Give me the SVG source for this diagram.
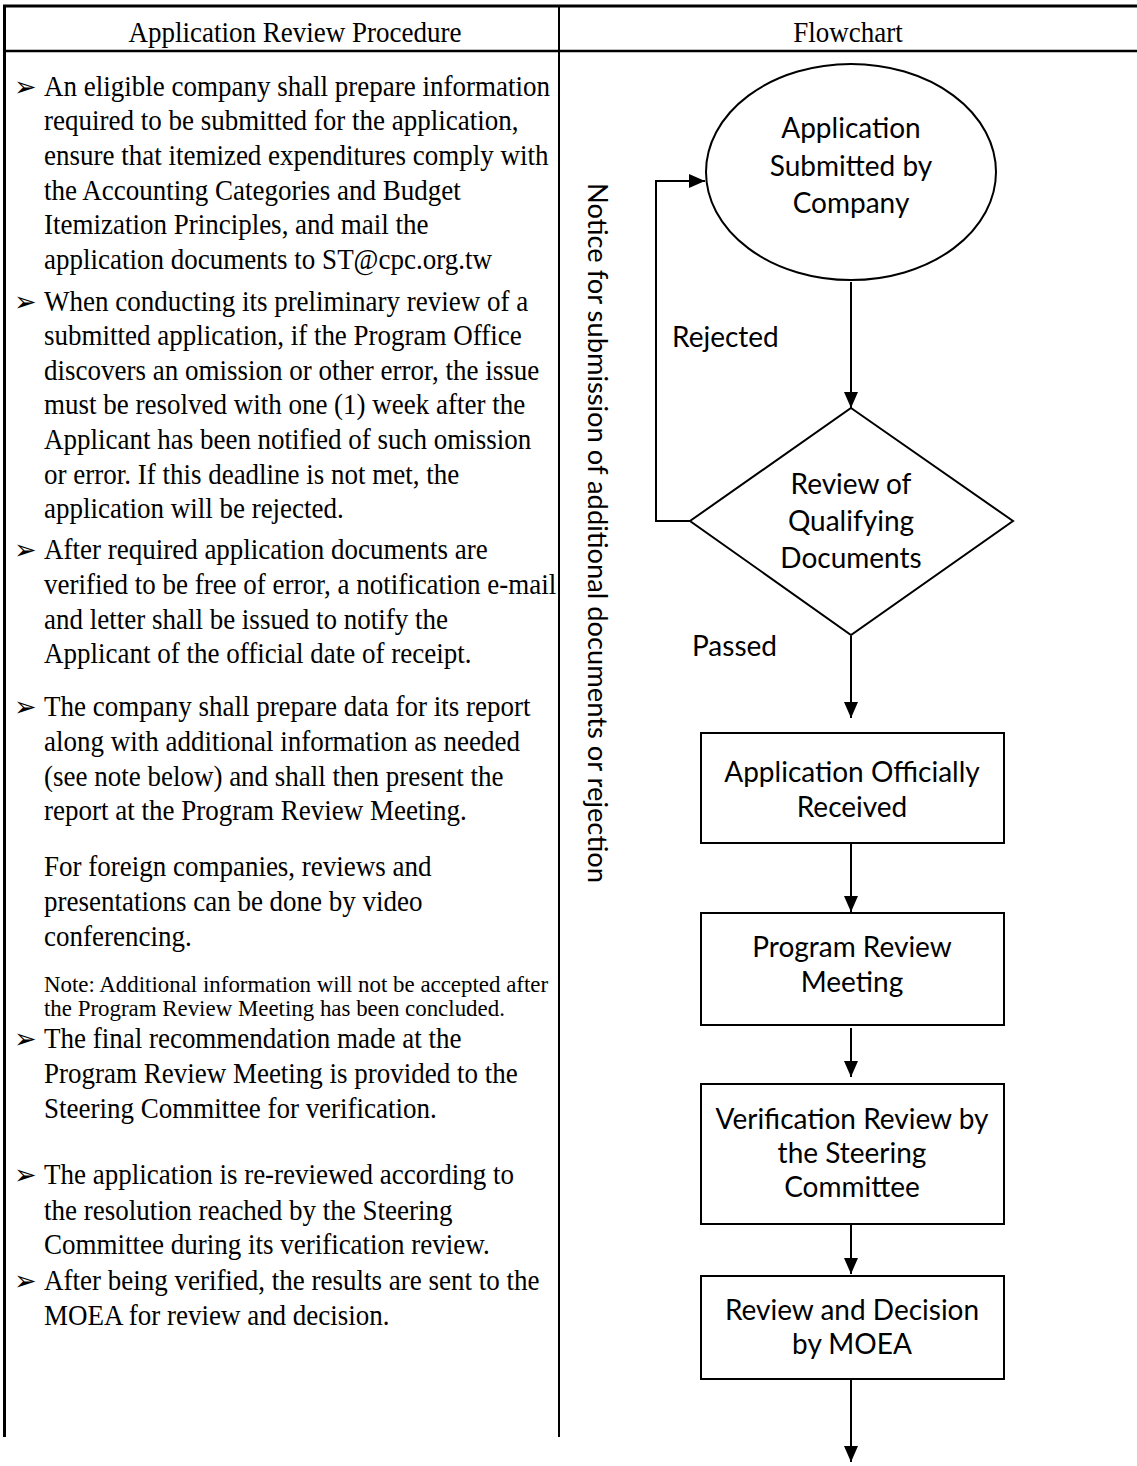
<svg xmlns="http://www.w3.org/2000/svg" width="1137" height="1466" viewBox="0 0 1137 1466">
<style>
.frame{stroke:#000;fill:none}
.body{font-family:"Liberation Serif","Times New Roman",serif;font-size:27px;fill:#000}
.note{font-family:"Liberation Serif","Times New Roman",serif;font-size:22.9px;fill:#000}
.bul{font-family:"DejaVu Sans",sans-serif;font-size:27px;fill:#000}
.hdr{font-family:"Liberation Serif","Times New Roman",serif;font-size:27px;fill:#000;text-anchor:middle}
.fc{font-family:Lato,"Liberation Sans",sans-serif;font-size:28px;fill:#000;text-anchor:middle}
.lbl{font-family:Lato,"Liberation Sans",sans-serif;font-size:28px;fill:#000}
.shape{fill:#fff;stroke:#000;stroke-width:2}
.conn{stroke:#000;stroke-width:2;fill:none}
</style>
<defs>
<marker id="ah" viewBox="0 0 10 10" refX="10" refY="5" markerWidth="16" markerHeight="14" orient="auto" markerUnits="userSpaceOnUse" preserveAspectRatio="none">
<path d="M0,0 L10,5 L0,10 z" fill="#000"/>
</marker>
</defs>
<rect width="1137" height="1466" fill="#fff"/>
<g id="table">
<line class="frame" x1="3" y1="6" x2="1137" y2="6" stroke-width="3"/>
<line class="frame" x1="3" y1="51" x2="1137" y2="51" stroke-width="2.5"/>
<line class="frame" x1="4.5" y1="5" x2="4.5" y2="1437" stroke-width="3"/>
<line class="frame" x1="559" y1="5" x2="559" y2="1437" stroke-width="2"/>
<g transform="scale(1,1.1)">
<text class="hdr" x="295" y="38.2">Application Review Procedure</text>
<text class="hdr" x="848" y="38.2">Flowchart</text>
</g>
</g>
<g id="procedure">
<g class="bul">
<text x="14" y="96">➢</text>
<text x="14" y="311">➢</text>
<text x="14" y="559">➢</text>
<text x="14" y="716">➢</text>
<text x="14" y="1048">➢</text>
<text x="14" y="1184">➢</text>
<text x="14" y="1290">➢</text>
</g>
<g class="body" transform="scale(1,1.1)">
<text x="44" y="87.3">An eligible company shall prepare information</text>
<text x="44" y="118.2">required to be submitted for the application,</text>
<text x="44" y="150">ensure that itemized expenditures comply with</text>
<text x="44" y="181.8">the Accounting Categories and Budget</text>
<text x="44" y="212.7">Itemization Principles, and mail the</text>
<text x="44" y="244.5">application documents to ST@cpc.org.tw</text>
<text x="44" y="282.7">When conducting its preliminary review of a</text>
<text x="44" y="313.6">submitted application, if the Program Office</text>
<text x="44" y="345.5">discovers an omission or other error, the issue</text>
<text x="44" y="376.4">must be resolved with one (1) week after the</text>
<text x="44" y="408.2">Applicant has been notified of such omission</text>
<text x="44" y="440">or error. If this deadline is not met, the</text>
<text x="44" y="470.9">application will be rejected.</text>
<text x="44" y="508.2">After required application documents are</text>
<text x="44" y="540">verified to be free of error, a notification e-mail</text>
<text x="44" y="571.8">and letter shall be issued to notify the</text>
<text x="44" y="602.7">Applicant of the official date of receipt.</text>
<text x="44" y="650.9">The company shall prepare data for its report</text>
<text x="44" y="682.7">along with additional information as needed</text>
<text x="44" y="714.5">(see note below) and shall then present the</text>
<text x="44" y="745.5">report at the Program Review Meeting.</text>
<text x="44" y="796.4">For foreign companies, reviews and</text>
<text x="44" y="828.2">presentations can be done by video</text>
<text x="44" y="860">conferencing.</text>
<text x="44" y="952.7">The final recommendation made at the</text>
<text x="44" y="984.5">Program Review Meeting is provided to the</text>
<text x="44" y="1016.4">Steering Committee for verification.</text>
<text x="44" y="1076.4">The application is re-reviewed according to</text>
<text x="44" y="1109.1">the resolution reached by the Steering</text>
<text x="44" y="1140">Committee during its verification review.</text>
<text x="44" y="1172.7">After being verified, the results are sent to the</text>
<text x="44" y="1204.5">MOEA for review and decision.</text>
</g>
<text class="note" x="44" y="992">Note: Additional information will not be accepted after</text>
<text class="note" x="44" y="1016">the Program Review Meeting has been concluded.</text>
</g>
<g id="connectors">
<line class="conn" x1="851" y1="282" x2="851" y2="408" marker-end="url(#ah)"/>
<polyline class="conn" points="690,521 656,521 656,181 705,181" marker-end="url(#ah)"/>
<line class="conn" x1="851" y1="636" x2="851" y2="718" marker-end="url(#ah)"/>
<line class="conn" x1="851" y1="843" x2="851" y2="912" marker-end="url(#ah)"/>
<line class="conn" x1="851" y1="1028" x2="851" y2="1077" marker-end="url(#ah)"/>
<line class="conn" x1="851" y1="1225" x2="851" y2="1274" marker-end="url(#ah)"/>
<line class="conn" x1="851" y1="1380" x2="851" y2="1462" marker-end="url(#ah)"/>
<text class="lbl" x="672" y="347">Rejected</text>
<text class="lbl" x="692" y="656">Passed</text>
<text class="lbl" style="font-size:27.3px" transform="translate(588,183) rotate(90)">Notice for submission of additional documents or rejection</text>
</g>
<g id="n-submitted">
<ellipse class="shape" cx="851" cy="172" rx="145" ry="108" stroke-width="1.5"/>
<text class="fc" x="851" y="138">Application</text>
<text class="fc" x="851" y="176">Submitted by</text>
<text class="fc" x="851" y="213">Company</text>
</g>
<g id="n-review-docs">
<polygon class="shape" points="851,408 1013,521 851,635 690,521" stroke-width="1.5"/>
<text class="fc" x="851" y="494">Review of</text>
<text class="fc" x="851" y="531">Qualifying</text>
<text class="fc" x="851" y="568">Documents</text>
</g>
<g id="n-received">
<rect class="shape" x="701" y="733" width="303" height="110"/>
<text class="fc" x="852" y="782">Application Officially</text>
<text class="fc" x="852" y="817">Received</text>
</g>
<g id="n-meeting">
<rect class="shape" x="701" y="913" width="303" height="112"/>
<text class="fc" x="852" y="957">Program Review</text>
<text class="fc" x="852" y="992">Meeting</text>
</g>
<g id="n-steering">
<rect class="shape" x="701" y="1084" width="303" height="140"/>
<text class="fc" x="852" y="1129">Verification Review by</text>
<text class="fc" x="852" y="1163">the Steering</text>
<text class="fc" x="852" y="1197">Committee</text>
</g>
<g id="n-moea">
<rect class="shape" x="701" y="1276" width="303" height="103"/>
<text class="fc" x="852" y="1320">Review and Decision</text>
<text class="fc" x="852" y="1354">by MOEA</text>
</g>
</svg>
